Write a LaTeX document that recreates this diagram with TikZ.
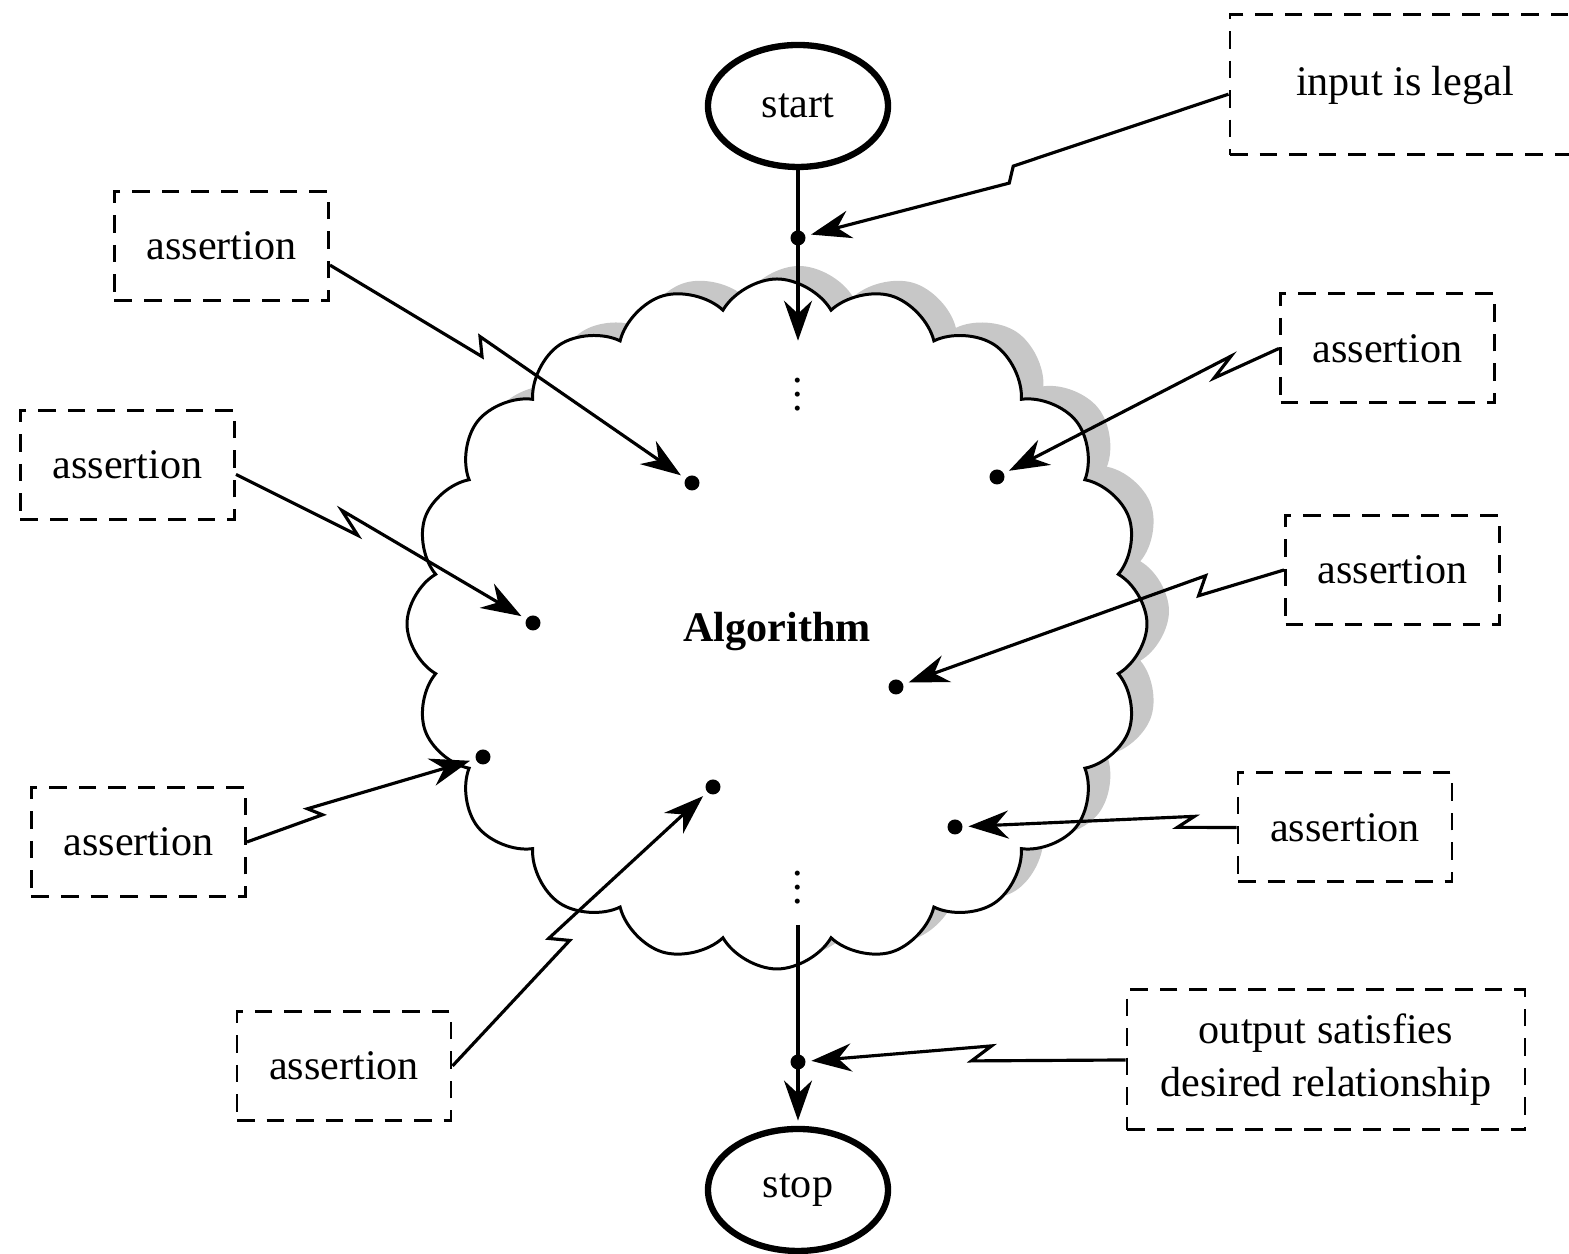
\documentclass[tikz,border=0pt]{standalone}
\usepackage{fontspec}
\setmainfont{Liberation Serif}
\usetikzlibrary{shapes.geometric, shapes.symbols, arrows.meta, calc, shadows}

\tikzset{
  term/.style={draw, ellipse, line width=1.8pt, minimum width=1.8cm, minimum height=1.22cm},
  note/.style={draw, dash pattern=on 5pt off 3.4pt, line width=0.85pt,
               minimum width=2.14cm, minimum height=1.09cm, align=center},
  spot/.style={circle, fill, inner sep=0pt, minimum size=0.15cm},
  link/.style={line width=0.9pt, -{Stealth[length=4mm, width=2.8mm]}, shorten >=1.5pt},
  bolt/.style 2 args={to path={-- ($(\tikztostart)!#1!(\tikztotarget)$) -- ++#2 -- (\tikztotarget) \tikztonodes}},
}

\begin{document}
\begin{tikzpicture}[font=\fontsize{12}{15}\selectfont]
        \useasboundingbox (0,0) rectangle (15.69,12.54);

        \node (algo) [cloud, draw, fill=white, line width=0.85pt, cloud puffs=20, cloud puff arc=120,
                      aspect=1.08, minimum width=7.4cm, minimum height=6.9cm, text height=0.45cm,
                      drop shadow={shadow xshift=0.22cm, shadow yshift=0.13cm, fill=black!22, opacity=1}]
                      at (7.77,6.3) {\bfseries Algorithm};

        \node (start) [term] at (7.98,11.48) {start};
        \node (stop)  [term] at (7.98,0.64)  {stop};

        \node (in1) [note, minimum width=3.5cm, minimum height=1.4cm] at (14.05,11.69) {input is legal};
        \node (out) [note, minimum width=3.98cm, minimum height=1.4cm] at (13.26,1.94)
                    {output satisfies\\desired relationship};

        \node (a1) [note] at (2.215,10.08) {assertion};
        \node (a2) [note] at (1.275,7.89)  {assertion};
        \node (a3) [note] at (1.385,4.12)  {assertion};
        \node (a4) [note] at (3.44,1.88)   {assertion};
        \node (a5) [note] at (13.875,9.055) {assertion};
        \node (a6) [note] at (13.925,6.84) {assertion};
        \node (a7) [note] at (13.45,4.265) {assertion};

        \node (pin)  [spot] at (7.98,10.16) {};
        \node (pout) [spot] at (7.98,1.92)  {};
        \node (p1) [spot] at (6.92,7.71) {};
        \node (p2) [spot] at (5.33,6.31) {};
        \node (p3) [spot] at (4.83,4.97) {};
        \node (p4) [spot] at (7.13,4.67) {};
        \node (p5) [spot] at (9.97,7.77) {};
        \node (p6) [spot] at (8.96,5.67) {};
        \node (p7) [spot] at (9.55,4.27) {};

        \coordinate (topin)  at (7.98,9.08);
        \coordinate (botout) at (7.98,3.29);
        \node (vtop) [inner sep=0pt, anchor=base] at (7.98,8.43) {$\vdots$};
        \node (vbot) [inner sep=0pt, anchor=base] at (7.98,3.50) {$\vdots$};

        \draw[link] (start) -- (topin);
        \draw[link] (botout) -- (stop);

        \draw[link] (in1.183) to[bolt={0.5}{(-0.04,-0.17)}] (pin);
        \draw[link] (out.west) to[bolt={0.47}{(0.2,0.15)}] (pout);
        \draw[link] (a1.-10) to[bolt={0.42}{(-0.02,0.2)}] (p1);
        \draw[link] (a2.-5) to[bolt={0.41}{(-0.16,0.25)}] (p2);
        \draw[link] (a3.east) to[bolt={0.32}{(-0.15,0.06)}] (p3);
        \draw[link] (a4.east) to[bolt={0.45}{(-0.21,0.02)}] (p4);
        \draw[link] (a5.west) to[bolt={0.23}{(0.17,0.22)}] (p5);
        \draw[link] (a6.west) to[bolt={0.22}{(0.07,0.2)}] (p6);
        \draw[link] (a7.west) to[bolt={0.21}{(0.17,0.11)}] (p7);
\end{tikzpicture}
\end{document}
